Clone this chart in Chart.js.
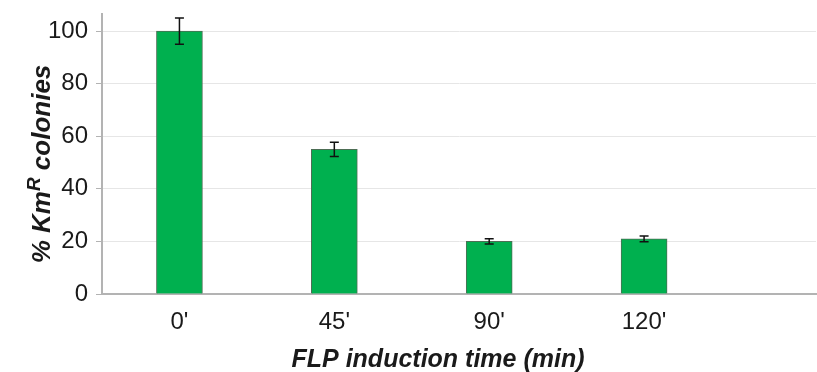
<!DOCTYPE html>
<html>
<head>
<meta charset="utf-8">
<script src="https://cdn.jsdelivr.net/npm/chart.js@4"></script>
<style>
  html, body { margin: 0; padding: 0; background: #fff; }
  #wrap { width: 817px; height: 372px; position: relative; }
</style>
</head>
<body>
<div id="wrap"><canvas id="chart"></canvas></div>
<script>
// Data
const categories = ["0'", "45'", "90'", "120'"];
const colonies = [100, 55, 20, 21];
const errors = [5, 2.7, 1, 1.1];
const yTicks = [0, 20, 40, 60, 80, 100];

const yTitle = ['% Km', 'R', ' colonies'];
const xTitle = 'FLP induction time (min)';

const TEXT = '#1a1a1a';
const AXIS = '#b3b3b3';
const FONT = '"Liberation Sans", Arial, sans-serif';

// error bars + axis titles
const extras = {
  id: 'extras',
  afterDatasetsDraw(chart) {
    const { ctx, scales: { x, y } } = chart;
    ctx.save();
    ctx.strokeStyle = '#111';
    ctx.lineWidth = 1.5;
    colonies.forEach((v, i) => {
      const px = x.getPixelForValue(i);
      const top = y.getPixelForValue(v + errors[i]);
      const bot = y.getPixelForValue(v - errors[i]);
      ctx.beginPath();
      ctx.moveTo(px, top); ctx.lineTo(px, bot);
      ctx.moveTo(px - 4.5, top); ctx.lineTo(px + 4.5, top);
      ctx.moveTo(px - 4.5, bot); ctx.lineTo(px + 4.5, bot);
      ctx.stroke();
    });
    ctx.restore();
  },
  afterDraw(chart) {
    const { ctx } = chart;
    ctx.save();
    ctx.fillStyle = TEXT;
    ctx.textBaseline = 'alphabetic';

    // x title
    ctx.font = 'italic bold 25px ' + FONT;
    ctx.textAlign = 'center';
    ctx.fillText(xTitle, 438, 367);

    // y title, rotated, with superscript R
    const big = 'italic bold 26px ' + FONT;
    const small = 'italic bold 19px ' + FONT;
    ctx.font = big;
    const w1 = ctx.measureText(yTitle[0]).width;
    const w3 = ctx.measureText(yTitle[2]).width;
    ctx.font = small;
    const w2 = ctx.measureText(yTitle[1]).width;
    const total = w1 + w2 + w3;
    ctx.translate(50, 164);
    ctx.rotate(-Math.PI / 2);
    ctx.textAlign = 'left';
    let cx = -total / 2;
    ctx.font = big;
    ctx.fillText(yTitle[0], cx, 0);
    cx += w1;
    ctx.font = small;
    ctx.fillText(yTitle[1], cx, -10);
    cx += w2;
    ctx.font = big;
    ctx.fillText(yTitle[2], cx, 0);
    ctx.restore();
  }
};

new Chart(document.getElementById('chart'), {
  type: 'bar',
  data: {
    datasets: [{
      data: colonies.map((v, i) => ({ x: i, y: v })),
      backgroundColor: '#00b04f',
      borderColor: '#4d6e55',
      borderWidth: 1,
      barThickness: 46
    }]
  },
  options: {
    responsive: true,
    maintainAspectRatio: false,
    animation: false,
    layout: { padding: { top: 14, right: 1, left: 0, bottom: 0 } },
    plugins: {
      legend: { display: false },
      tooltip: { enabled: false }
    },
    scales: {
      x: {
        type: 'linear',
        offset: false,
        min: -0.5,
        max: 4.11,
        afterBuildTicks: (scale) => { scale.ticks = categories.map((c, i) => ({ value: i })); },
        afterFit: (scale) => { scale.height = 78; },
        ticks: {
          callback: (v) => categories[v],
          color: TEXT,
          font: { family: FONT, size: 24 },
          padding: 6,
          maxRotation: 0
        },
        grid: { display: false },
        border: { display: true, color: AXIS, width: 2 }
      },
      y: {
        min: 0,
        max: 106.5,
        afterBuildTicks: (scale) => { scale.ticks = yTicks.map(v => ({ value: v })); },
        afterFit: (scale) => { scale.width = 102; },
        ticks: {
          color: TEXT,
          font: { family: FONT, size: 24, lineHeight: 0.4 },
          padding: 8
        },
        grid: {
          color: '#e6e6e6',
          tickColor: AXIS,
          tickLength: 6,
          lineWidth: 1
        },
        border: { color: AXIS, width: 2 }
      }
    }
  },
  plugins: [extras]
});
</script>
</body>
</html>
